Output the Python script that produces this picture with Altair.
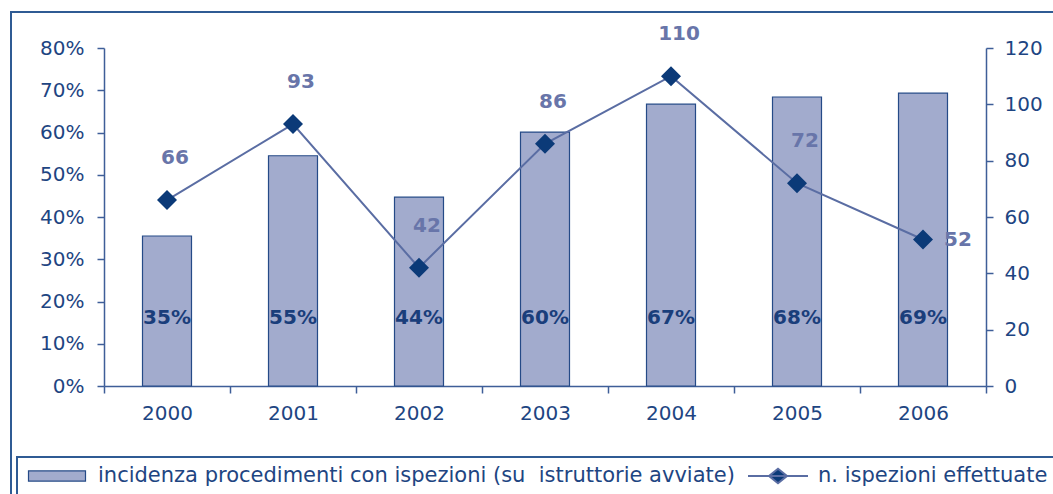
import altair as alt
import pandas as pd

# ---- data ----
years = ["2000", "2001", "2002", "2003", "2004", "2005", "2006"]
incidenza = [0.355, 0.545, 0.447, 0.601, 0.667, 0.684, 0.693]
incidenza_labels = ["35%", "55%", "44%", "60%", "67%", "68%", "69%"]
ispezioni = [66, 93, 42, 86, 110, 72, 52]

BAR_NAME = "incidenza procedimenti con ispezioni (su  istruttorie avviate)"
LINE_NAME = "n. ispezioni effettuate"

pct_ticks = [0, 0.1, 0.2, 0.3, 0.4, 0.5, 0.6, 0.7, 0.8]
n_ticks = [0, 20, 40, 60, 80, 100, 120]

df = pd.DataFrame({
    "year": years,
    "pct": incidenza,
    "pct_label": incidenza_labels,
    "n": ispezioni,
    "bar_series": [BAR_NAME] * len(years),
    "line_series": [LINE_NAME] * len(years),
})

# ---- styles ----
FONT = "DejaVu Sans"
AXIS_TXT = "#1E4582"
AXIS_LINE = "#3E5E98"
FRAME = "#2F5B94"
BAR_FILL = "#A2ABCD"
BAR_STROKE = "#254A87"
LINE_C = "#5A6DA3"
DIAMOND = "#0B3A78"
PT_LABEL = "#6875A9"
BAR_LABEL = "#1A3E7B"

common_leg = dict(orient="none", legendY=397, symbolSize=3600, labelFont=FONT,
                  labelFontSize=21, labelColor=AXIS_TXT, labelLimit=900, padding=0,
                  labelExpr="replace(datum.label, '  ', '\u00a0 ')")

legend_bar = alt.Legend(legendX=-78, labelOffset=10,
                        symbolType="M-0.95,-0.17H0.95V0.17H-0.95Z",
                        symbolStrokeColor=BAR_STROKE, symbolStrokeWidth=1.2,
                        symbolOpacity=1, **common_leg)
legend_line = alt.Legend(legendX=643, labelOffset=9,
                         symbolType="M-1,0H1M0,-0.24L0.3,0L0,0.24L-0.3,0Z",
                         symbolStrokeWidth=2, symbolOpacity=1, **common_leg)

x_enc = alt.X("year:N", scale=alt.Scale(paddingInner=0, paddingOuter=0),
              axis=alt.Axis(title=None, labelAngle=0, tickBand="extent", labelPadding=10))

y_pct = alt.Y("pct:Q", scale=alt.Scale(domain=[0, 0.8]),
              axis=alt.Axis(title=None, orient="left", values=pct_ticks, format=".0%", labelPadding=13))
y_n = alt.Y("n:Q", scale=alt.Scale(domain=[0, 120]),
            axis=alt.Axis(title=None, orient="right", values=n_ticks, labelPadding=11))

base = alt.Chart(df)

bars = base.mark_bar(size=49, stroke=BAR_STROKE, strokeWidth=1.2).encode(
    x=x_enc, y=y_pct,
    color=alt.Color("bar_series:N", scale=alt.Scale(domain=[BAR_NAME], range=[BAR_FILL]),
                    legend=legend_bar, title=None),
)
bar_labels = base.mark_text(font=FONT, fontSize=20, fontWeight="bold", color=BAR_LABEL,
                            baseline="middle").transform_calculate(lab_y="0.16").encode(
    x=x_enc, y=alt.Y("lab_y:Q", scale=alt.Scale(domain=[0, 0.8]), title=None), text="pct_label:N")

left = alt.layer(bars, bar_labels)

line = base.mark_line(strokeWidth=2).encode(
    x=x_enc, y=y_n,
    stroke=alt.Stroke("line_series:N", scale=alt.Scale(domain=[LINE_NAME], range=[LINE_C]),
                      legend=legend_line, title=None),
)
points = base.mark_point(shape="diamond", filled=True, size=400, opacity=1).encode(
    x=x_enc, y=y_n,
    fill=alt.Fill("line_series:N", scale=alt.Scale(domain=[LINE_NAME], range=[DIAMOND]),
                  legend=legend_line, title=None),
)
pt_labels = base.mark_text(font=FONT, fontSize=20, fontWeight="bold", color=PT_LABEL,
                           baseline="middle", dx=8, dy=-42).encode(
    x=x_enc, y=y_n, text="n:Q").transform_filter("datum.year !== '2006'")
pt_label_last = base.mark_text(font=FONT, fontSize=20, fontWeight="bold", color=PT_LABEL,
                               baseline="middle", dx=35, dy=0).encode(
    x=x_enc, y=y_n, text="n:Q").transform_filter("datum.year === '2006'")

right = alt.layer(line, points, pt_labels, pt_label_last)

deco = alt.Chart(pd.DataFrame({"k": [0]}))
frame = deco.mark_rect(fill="transparent", stroke=FRAME, strokeWidth=2).encode(
    x=alt.value(-93), x2=alt.value(960), y=alt.value(-36), y2=alt.value(470))
legend_box = deco.mark_rect(fill="transparent", stroke=FRAME, strokeWidth=2).encode(
    x=alt.value(-87), x2=alt.value(958), y=alt.value(409), y2=alt.value(468))

chart = alt.layer(frame, legend_box, left, right).resolve_scale(y="independent").properties(
    width=882, height=338,
    autosize=alt.AutoSizeParams(type="none"),
    padding={"left": 104, "top": 48, "right": 67, "bottom": 108},
).configure_view(strokeWidth=0).configure_axis(
    labelFont=FONT, labelFontSize=20, labelColor=AXIS_TXT,
    domainColor=AXIS_LINE, tickColor=AXIS_LINE, domainWidth=1.5, tickWidth=1.5,
    tickSize=7, grid=False,
)

chart.save("out.html", embed_options={"renderer": "svg", "actions": False})
